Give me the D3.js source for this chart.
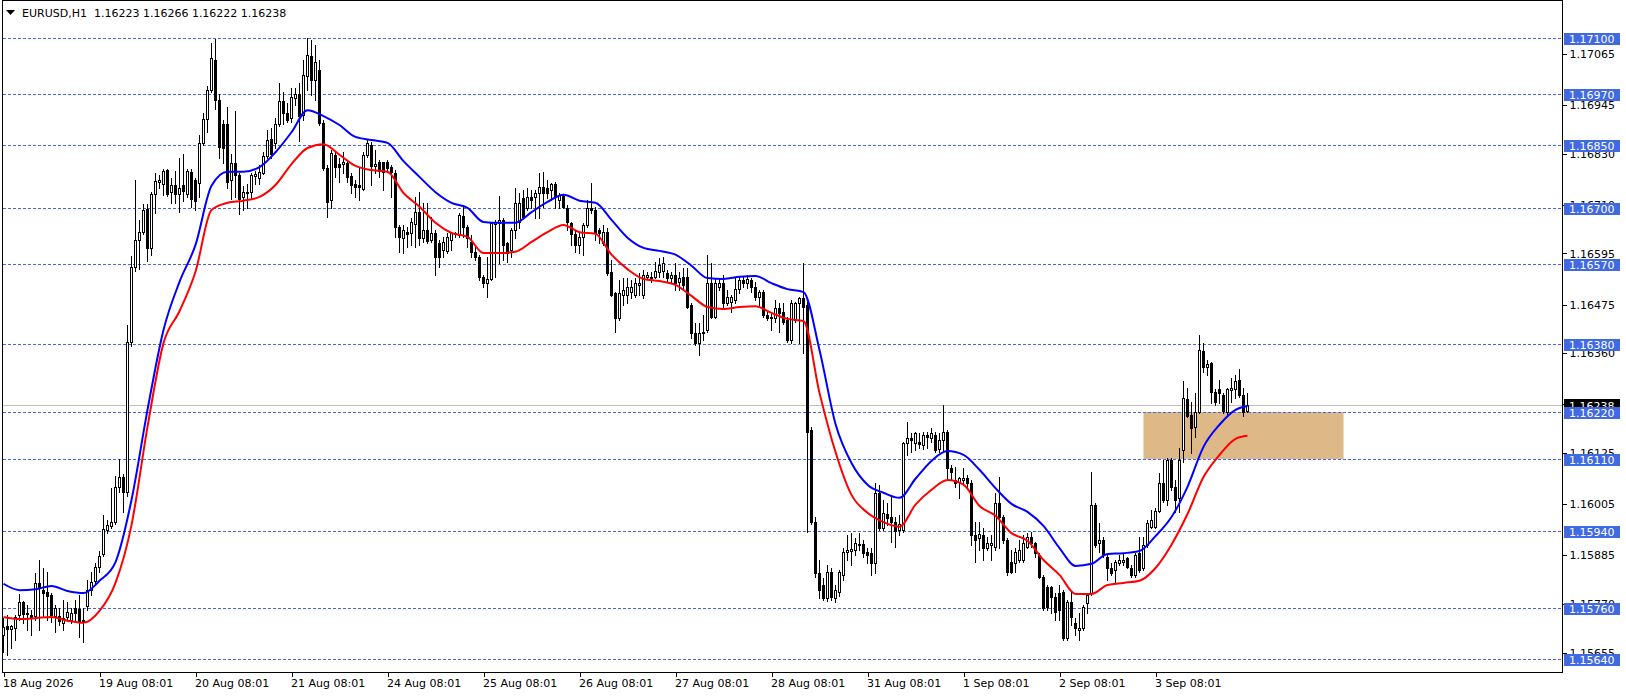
<!DOCTYPE html>
<html><head><meta charset="utf-8">
<script src="https://cdn.jsdelivr.net/npm/d3@7"></script>
<style>
html,body{margin:0;padding:0;background:#fff;overflow:hidden}
svg{display:block}
text{font-family:"DejaVu Sans",sans-serif;font-size:11px}
</style>
</head><body>
<svg id="chart" width="1626" height="696"></svg>
<script>
const chartTitle = "EURUSD,H1";
const titleQuote = ["1.16223", "1.16266", "1.16222", "1.16238"];

const opens = [
1.15696,1.15718,1.15711,1.15713,1.15743,1.15774,1.15748,1.15743,1.15741,1.15819,
1.15802,1.15797,1.15790,1.15741,1.15741,1.15725,1.15739,1.15732,1.15760,1.15758,
1.15732,1.15765,1.15802,1.15824,1.15857,1.15887,1.15943,1.15953,1.15962,1.16045,
1.16068,1.16033,1.16385,1.16562,1.16626,1.16644,1.16699,1.16607,1.16734,1.16762,
1.16758,1.16790,1.16738,1.16755,1.16734,1.16755,1.16734,1.16785,1.16767,1.16760,
1.16854,1.16910,1.16978,1.17049,1.16955,1.16899,1.16899,1.16767,1.16807,1.16779,
1.16727,1.16736,1.16738,1.16776,1.16772,1.16783,1.16823,1.16863,1.16854,1.16899,
1.16953,1.16924,1.16913,1.16960,1.16969,1.16920,1.17011,1.17058,1.17002,1.17025,
1.16901,1.16795,1.16720,1.16826,1.16804,1.16804,1.16807,1.16776,1.16758,1.16755,
1.16745,1.16826,1.16849,1.16800,1.16809,1.16809,1.16809,1.16797,1.16783,1.16656,
1.16631,1.16644,1.16642,1.16663,1.16691,1.16631,1.16649,1.16626,1.16642,1.16619,
1.16602,1.16600,1.16626,1.16640,1.16638,1.16682,1.16656,1.16621,1.16598,1.16586,
1.16539,1.16524,1.16534,1.16663,1.16666,1.16673,1.16619,1.16602,1.16649,1.16668,
1.16724,1.16701,1.16727,1.16727,1.16736,1.16750,1.16748,1.16743,1.16758,1.16720,
1.16729,1.16701,1.16666,1.16640,1.16614,1.16633,1.16661,1.16701,1.16696,1.16649,
1.16619,1.16644,1.16551,1.16501,1.16442,1.16497,1.16497,1.16503,1.16497,1.16520,
1.16497,1.16539,1.16536,1.16539,1.16551,1.16553,1.16548,1.16536,1.16544,1.16527,
1.16539,1.16539,1.16473,1.16407,1.16383,1.16407,1.16414,1.16524,1.16444,1.16515,
1.16524,1.16477,1.16480,1.16484,1.16510,1.16531,1.16524,1.16531,1.16515,1.16491,
1.16503,1.16449,1.16444,1.16442,1.16466,1.16456,1.16437,1.16390,1.16437,1.16477,
1.16489,1.16473,1.16179,1.15962,1.15842,1.15814,1.15784,1.15845,1.15784,1.15797,
1.15838,1.15892,1.15894,1.15896,1.15910,1.15910,1.15892,1.15889,1.15866,1.16031,
1.15948,1.15981,1.15974,1.15962,1.15943,1.15943,1.16148,1.16160,1.16148,1.16151,
1.16144,1.16167,1.16160,1.16167,1.16134,1.16155,1.16174,1.16089,1.16061,1.16057,
1.16061,1.16066,1.16054,1.15932,1.15925,1.15932,1.15901,1.15908,1.15904,1.16007,
1.15974,1.15920,1.15868,1.15866,1.15873,1.15873,1.15904,1.15927,1.15913,1.15885,
1.15833,1.15809,1.15809,1.15786,1.15795,1.15797,1.15689,1.15774,1.15725,1.15708,
1.15713,1.15772,1.15795,1.16003,1.15913,1.15920,1.15880,1.15854,1.15849,1.15866,
1.15868,1.15878,1.15854,1.15838,1.15889,1.15854,1.15908,1.15951,1.15951,1.15988,
1.16054,1.16014,1.16108,1.16045,1.16019,1.16132,1.16252,1.16214,1.16186,1.16221,
1.16364,1.16327,1.16336,1.16268,1.16275,1.16261,1.16221,1.16273,1.16275,1.16296,
1.16261,1.16223];

const highs = [
1.15736,1.15743,1.15720,1.15743,1.15793,1.15777,1.15768,1.15755,1.15842,1.15873,
1.15854,1.15845,1.15795,1.15768,1.15760,1.15779,1.15774,1.15760,1.15779,1.15791,
1.15760,1.15826,1.15845,1.15866,1.15894,1.15979,1.15967,1.16042,1.16071,1.16111,
1.16076,1.16426,1.16588,1.16767,1.16673,1.16711,1.16711,1.16738,1.16783,1.16779,
1.16793,1.16793,1.16772,1.16788,1.16819,1.16828,1.16793,1.16793,1.16772,1.16873,
1.16924,1.16988,1.17089,1.17098,1.16969,1.16908,1.16939,1.16828,1.16929,1.16783,
1.16753,1.16758,1.16783,1.16788,1.16802,1.16832,1.16884,1.16889,1.16913,1.16995,
1.16974,1.16948,1.16983,1.16983,1.16995,1.17049,1.17101,1.17096,1.17084,1.17049,
1.16908,1.16802,1.16837,1.16832,1.16819,1.16832,1.16814,1.16783,1.16767,1.16797,
1.16832,1.16861,1.16856,1.16837,1.16814,1.16809,1.16814,1.16802,1.16790,1.16661,
1.16661,1.16656,1.16677,1.16727,1.16738,1.16713,1.16713,1.16680,1.16649,1.16626,
1.16633,1.16642,1.16644,1.16644,1.16689,1.16708,1.16661,1.16638,1.16609,1.16591,
1.16544,1.16586,1.16668,1.16673,1.16729,1.16677,1.16621,1.16654,1.16748,1.16736,
1.16743,1.16748,1.16743,1.16743,1.16783,1.16786,1.16767,1.16760,1.16762,1.16736,
1.16732,1.16708,1.16668,1.16649,1.16642,1.16666,1.16720,1.16760,1.16704,1.16654,
1.16661,1.16654,1.16579,1.16503,1.16531,1.16536,1.16536,1.16531,1.16536,1.16548,
1.16555,1.16551,1.16551,1.16574,1.16584,1.16586,1.16555,1.16551,1.16572,1.16551,
1.16560,1.16560,1.16477,1.16430,1.16430,1.16449,1.16591,1.16572,1.16536,1.16536,
1.16544,1.16508,1.16497,1.16539,1.16539,1.16539,1.16544,1.16536,1.16527,1.16508,
1.16508,1.16456,1.16456,1.16484,1.16477,1.16477,1.16444,1.16484,1.16480,1.16491,
1.16572,1.16484,1.16186,1.15974,1.15873,1.15830,1.15861,1.15854,1.15814,1.15849,
1.15901,1.15932,1.15936,1.15924,1.15936,1.15920,1.15901,1.15901,1.16054,1.16050,
1.16014,1.16007,1.16021,1.15974,1.15979,1.16150,1.16197,1.16172,1.16174,1.16172,
1.16174,1.16174,1.16184,1.16174,1.16172,1.16238,1.16179,1.16097,1.16092,1.16068,
1.16090,1.16073,1.16061,1.15962,1.15962,1.15948,1.15927,1.15932,1.16031,1.16068,
1.15979,1.15925,1.15896,1.15901,1.15920,1.15932,1.15936,1.15939,1.15915,1.15889,
1.15838,1.15814,1.15812,1.15795,1.15814,1.15802,1.15779,1.15797,1.15736,1.15748,
1.15768,1.15795,1.16080,1.16007,1.15960,1.15927,1.15885,1.15866,1.15873,1.15885,
1.15889,1.15880,1.15862,1.15889,1.15927,1.15927,1.15967,1.15991,1.15995,1.16078,
1.16108,1.16113,1.16113,1.16061,1.16137,1.16294,1.16278,1.16245,1.16266,1.16402,
1.16383,1.16343,1.16339,1.16275,1.16296,1.16266,1.16278,1.16301,1.16308,1.16322,
1.16278,1.16266];

const lows = [
1.15656,1.15649,1.15666,1.15685,1.15732,1.15725,1.15708,1.15696,1.15732,1.15708,
1.15739,1.15732,1.15727,1.15703,1.15720,1.15708,1.15732,1.15725,1.15727,1.15692,
1.15680,1.15755,1.15791,1.15814,1.15845,1.15882,1.15936,1.15948,1.15958,1.16033,
1.15986,1.16024,1.16376,1.16553,1.16557,1.16640,1.16577,1.16591,1.16689,1.16748,
1.16732,1.16729,1.16713,1.16713,1.16691,1.16718,1.16727,1.16704,1.16696,1.16727,
1.16849,1.16879,1.16974,1.16934,1.16819,1.16807,1.16748,1.16722,1.16727,1.16687,
1.16696,1.16701,1.16724,1.16758,1.16758,1.16781,1.16818,1.16818,1.16842,1.16894,
1.16899,1.16903,1.16903,1.16943,1.16858,1.16908,1.16978,1.16967,1.16955,1.16896,
1.16790,1.16680,1.16701,1.16774,1.16762,1.16783,1.16762,1.16736,1.16727,1.16720,
1.16743,1.16821,1.16755,1.16783,1.16774,1.16743,1.16786,1.16727,1.16633,1.16598,
1.16595,1.16609,1.16614,1.16609,1.16614,1.16621,1.16619,1.16621,1.16544,1.16562,
1.16586,1.16595,1.16602,1.16633,1.16633,1.16633,1.16609,1.16586,1.16579,1.16531,
1.16515,1.16491,1.16531,1.16539,1.16572,1.16579,1.16574,1.16586,1.16631,1.16654,
1.16677,1.16696,1.16701,1.16677,1.16677,1.16704,1.16724,1.16720,1.16701,1.16701,
1.16701,1.16649,1.16614,1.16598,1.16595,1.16591,1.16656,1.16689,1.16626,1.16619,
1.16614,1.16544,1.16493,1.16409,1.16437,1.16473,1.16477,1.16489,1.16491,1.16497,
1.16489,1.16536,1.16527,1.16536,1.16539,1.16539,1.16527,1.16527,1.16508,1.16508,
1.16513,1.16466,1.16395,1.16379,1.16355,1.16390,1.16409,1.16442,1.16442,1.16508,
1.16468,1.16473,1.16456,1.16477,1.16501,1.16515,1.16513,1.16503,1.16484,1.16468,
1.16444,1.16437,1.16414,1.16433,1.16409,1.16428,1.16385,1.16383,1.16433,1.16383,
1.16360,1.15939,1.15958,1.15833,1.15784,1.15779,1.15777,1.15779,1.15774,1.15788,
1.15826,1.15873,1.15862,1.15885,1.15896,1.15880,1.15866,1.15838,1.15842,1.15943,
1.15943,1.15955,1.15915,1.15903,1.15932,1.15939,1.16120,1.16127,1.16132,1.16137,
1.16134,1.16137,1.16151,1.16127,1.16127,1.16127,1.16066,1.16061,1.16045,1.16019,
1.16054,1.16045,1.15909,1.15868,1.15896,1.15873,1.15896,1.15873,1.15896,1.15901,
1.15913,1.15838,1.15842,1.15845,1.15868,1.15868,1.15901,1.15904,1.15880,1.15831,
1.15755,1.15755,1.15748,1.15732,1.15732,1.15685,1.15685,1.15720,1.15696,1.15685,
1.15708,1.15748,1.15791,1.15904,1.15892,1.15880,1.15826,1.15838,1.15819,1.15862,
1.15862,1.15854,1.15833,1.15833,1.15845,1.15849,1.15904,1.15948,1.15948,1.15986,
1.16009,1.16003,1.16038,1.15986,1.15986,1.16104,1.16209,1.16125,1.16162,1.16219,
1.16315,1.16308,1.16242,1.16238,1.16242,1.16219,1.16217,1.16245,1.16254,1.16256,
1.16212,1.16222];

const closes = [
1.15716,1.15711,1.15718,1.15739,1.15774,1.15746,1.15746,1.15736,1.15819,1.15807,
1.15795,1.15788,1.15743,1.15760,1.15730,1.15736,1.15750,1.15748,1.15748,1.15727,
1.15730,1.15802,1.15821,1.15857,1.15882,1.15946,1.15955,1.15962,1.16045,1.16068,
1.16033,1.16385,1.16562,1.16626,1.16644,1.16696,1.16607,1.16734,1.16765,1.16767,
1.16788,1.16734,1.16755,1.16734,1.16748,1.16741,1.16788,1.16722,1.16718,1.16854,
1.16910,1.16978,1.17054,1.16955,1.16844,1.16842,1.16762,1.16807,1.16779,1.16722,
1.16738,1.16738,1.16779,1.16781,1.16786,1.16823,1.16861,1.16828,1.16899,1.16953,
1.16924,1.16908,1.16962,1.16969,1.16917,1.17014,1.17061,1.17002,1.17044,1.16901,
1.16795,1.16715,1.16830,1.16797,1.16797,1.16809,1.16774,1.16755,1.16750,1.16750,
1.16826,1.16854,1.16800,1.16804,1.16788,1.16786,1.16795,1.16786,1.16656,1.16633,
1.16649,1.16640,1.16668,1.16691,1.16631,1.16649,1.16624,1.16642,1.16586,1.16586,
1.16621,1.16633,1.16642,1.16641,1.16685,1.16656,1.16631,1.16598,1.16586,1.16539,
1.16524,1.16534,1.16666,1.16668,1.16673,1.16614,1.16595,1.16649,1.16713,1.16713,
1.16680,1.16727,1.16720,1.16736,1.16750,1.16736,1.16736,1.16758,1.16729,1.16732,
1.16704,1.16668,1.16640,1.16614,1.16633,1.16661,1.16701,1.16696,1.16642,1.16642,
1.16644,1.16548,1.16497,1.16442,1.16501,1.16508,1.16515,1.16515,1.16524,1.16524,
1.16544,1.16544,1.16539,1.16553,1.16567,1.16572,1.16536,1.16544,1.16524,1.16536,
1.16520,1.16468,1.16407,1.16383,1.16407,1.16409,1.16524,1.16444,1.16524,1.16524,
1.16477,1.16491,1.16491,1.16510,1.16531,1.16524,1.16534,1.16515,1.16491,1.16503,
1.16449,1.16442,1.16442,1.16466,1.16454,1.16433,1.16390,1.16477,1.16477,1.16489,
1.16468,1.16175,1.15962,1.15842,1.15802,1.15784,1.15845,1.15786,1.15802,1.15845,
1.15892,1.15896,1.15899,1.15913,1.15908,1.15889,1.15885,1.15866,1.16031,1.15948,
1.15983,1.15972,1.15962,1.15941,1.15958,1.16148,1.16160,1.16155,1.16172,1.16146,
1.16167,1.16162,1.16172,1.16132,1.16155,1.16174,1.16089,1.16080,1.16054,1.16066,
1.16066,1.16054,1.15932,1.15920,1.15934,1.15901,1.15913,1.15913,1.16007,1.15974,
1.15920,1.15845,1.15845,1.15892,1.15896,1.15913,1.15927,1.15913,1.15889,1.15833,
1.15760,1.15762,1.15786,1.15750,1.15755,1.15689,1.15774,1.15739,1.15713,1.15713,
1.15762,1.15791,1.16003,1.15909,1.15920,1.15885,1.15854,1.15842,1.15868,1.15873,
1.15873,1.15857,1.15838,1.15885,1.15849,1.15908,1.15960,1.15967,1.15988,1.16054,
1.16014,1.16108,1.16045,1.16014,1.16108,1.16254,1.16212,1.16184,1.16221,1.16367,
1.16327,1.16334,1.16268,1.16245,1.16266,1.16224,1.16275,1.16278,1.16294,1.16261,
1.16221,1.16238];

// indicator lines (blue upper / red lower), read at these bar indices
const maBars = [0,4,8,12,16,20,24,28,32,36,40,44,48,52,56,60,64,68,72,76,
80,84,88,92,96,100,104,108,112,116,120,124,128,132,136,140,144,148,152,156,
160,164,168,172,176,180,184,188,192,196,200,204,208,212,216,220,224,228,232,236,
240,244,248,252,256,260,264,268,272,276,280,284,288,292,296,300,304,308,311];
const maUpper = [
1.15817,1.15802,1.15804,1.15812,1.15800,1.15795,1.15824,1.15868,1.16014,1.16226,
1.16414,1.16527,1.16614,1.16753,1.16786,1.16786,1.16797,1.16832,1.16879,1.16931,
1.16917,1.16896,1.16868,1.16861,1.16854,1.16811,1.16774,1.16738,1.16713,1.16701,
1.16668,1.16666,1.16666,1.16691,1.16715,1.16732,1.16718,1.16713,1.16673,1.16631,
1.16607,1.16600,1.16591,1.16565,1.16536,1.16534,1.16539,1.16541,1.16524,1.16510,
1.16503,1.16367,1.16193,1.16101,1.16050,1.16031,1.16019,1.16064,1.16106,1.16129,
1.16120,1.16085,1.16042,1.16005,1.15986,1.15953,1.15901,1.15859,1.15864,1.15887,
1.15889,1.15894,1.15929,1.15974,1.16045,1.16139,1.16191,1.16226,1.16235];
const maLower = [
1.15739,1.15734,1.15736,1.15739,1.15730,1.15725,1.15753,1.15819,1.15955,1.16186,
1.16383,1.16458,1.16551,1.16696,1.16713,1.16718,1.16727,1.16755,1.16804,1.16842,
1.16851,1.16826,1.16800,1.16790,1.16786,1.16736,1.16704,1.16666,1.16642,1.16633,
1.16595,1.16595,1.16598,1.16621,1.16644,1.16661,1.16644,1.16640,1.16591,1.16557,
1.16534,1.16529,1.16520,1.16494,1.16468,1.16463,1.16468,1.16470,1.16454,1.16440,
1.16435,1.16266,1.16127,1.16026,1.15984,1.15962,1.15951,1.16003,1.16038,1.16061,
1.16050,1.16000,1.15977,1.15936,1.15918,1.15873,1.15838,1.15793,1.15793,1.15814,
1.15819,1.15824,1.15854,1.15909,1.15981,1.16068,1.16120,1.16158,1.16165];

const levelPrices = [1.17100,1.16970,1.16850,1.16700,1.16570,1.16380,1.16220,1.16110,1.15940,1.15760,1.15640];
const priceTicks = [1.17065,1.16945,1.16830,1.16710,1.16595,1.16475,1.16360,1.16240,1.16125,1.16005,1.15885,1.15770,1.15655];
const timeTickBars = [0,24,48,72,96,120,144,168,192,216,240,264,288];
const timeTickLabels = ["18 Aug 2026","19 Aug 08:01","20 Aug 08:01","21 Aug 08:01","24 Aug 08:01","25 Aug 08:01","26 Aug 08:01","27 Aug 08:01","28 Aug 08:01","31 Aug 08:01","1 Sep 08:01","2 Sep 08:01","3 Sep 08:01"];
const zoneBars = [285, 335];
const zonePrices = [1.16220, 1.16110];
const currentPrice = 1.16238;

// ---------- drawing ----------
const svg = d3.select("#chart");
const plotLeft = 2, plotRight = 1562, plotTop = 0, plotBottom = 672;
const n = closes.length;
const x = d3.scaleLinear().domain([0, n - 1]).range([3.5, 3.5 + 4 * (n - 1)]);
const y = d3.scaleLinear().domain([1.15640, 1.17100]).range([659, 38.3]);
const py = v => Math.round(y(v)) + 0.5;

const plot = svg.append("g");

// zone rectangle
plot.append("rect")
  .attr("x", x(zoneBars[0])).attr("y", py(zonePrices[0]) - 0.5)
  .attr("width", x(zoneBars[1]) - x(zoneBars[0]))
  .attr("height", py(zonePrices[1]) - py(zonePrices[0]))
  .attr("fill", "#DEB887");

// current price line
plot.append("line")
  .attr("x1", plotLeft).attr("x2", plotRight)
  .attr("y1", py(currentPrice)).attr("y2", py(currentPrice))
  .attr("stroke", "#C0C0C0").attr("stroke-width", 1).attr("shape-rendering", "crispEdges");

// horizontal levels
plot.selectAll("line.level").data(levelPrices).enter().append("line")
  .attr("class", "level")
  .attr("x1", plotLeft + 1).attr("x2", plotRight)
  .attr("y1", d => py(d)).attr("y2", d => py(d))
  .attr("stroke", "#4169E1").attr("stroke-width", 1)
  .attr("stroke-dasharray", "3,2").attr("shape-rendering", "crispEdges");

// candles
const idx = d3.range(n);
const cg = plot.append("g").attr("shape-rendering", "crispEdges");
cg.selectAll("line.wick").data(idx).enter().append("line")
  .attr("x1", i => x(i)).attr("x2", i => x(i))
  .attr("y1", i => py(highs[i]) - 0.5).attr("y2", i => py(lows[i]) + 0.5)
  .attr("stroke", "#000").attr("stroke-width", 1);
cg.selectAll("rect.body").data(idx).enter().append("rect")
  .attr("x", i => x(i) - 1)
  .attr("y", i => py(Math.max(opens[i], closes[i])))
  .attr("width", 2)
  .attr("height", i => Math.max(0, py(Math.min(opens[i], closes[i])) - py(Math.max(opens[i], closes[i]))))
  .attr("fill", i => closes[i] >= opens[i] ? "#fff" : "#000")
  .attr("stroke", "#000").attr("stroke-width", 1);

// indicator lines
const maLine = vals => d3.line()
  .x((d, k) => x(maBars[k]))
  .y((d) => y(d))
  .curve(d3.curveMonotoneX)(vals);
plot.append("path").attr("d", maLine(maUpper))
  .attr("fill", "none").attr("stroke", "#0000FF").attr("stroke-width", 2);
plot.append("path").attr("d", maLine(maLower))
  .attr("fill", "none").attr("stroke", "#FF0000").attr("stroke-width", 2);

// frame
const frame = svg.append("g").attr("shape-rendering", "crispEdges");
frame.append("line").attr("x1", plotLeft + 0.5).attr("x2", plotLeft + 0.5).attr("y1", plotTop).attr("y2", plotBottom + 0.5).attr("stroke", "#000");
frame.append("line").attr("x1", plotLeft).attr("x2", plotRight + 1).attr("y1", plotTop + 0.5).attr("y2", plotTop + 0.5).attr("stroke", "#000");
frame.append("line").attr("x1", plotRight + 0.5).attr("x2", plotRight + 0.5).attr("y1", plotTop).attr("y2", plotBottom + 0.5).attr("stroke", "#000");
frame.append("line").attr("x1", plotLeft).attr("x2", plotRight + 1).attr("y1", plotBottom + 0.5).attr("y2", plotBottom + 0.5).attr("stroke", "#000");

// right price axis
const yAxis = d3.axisRight(y).tickValues(priceTicks).tickSize(4).tickPadding(3)
  .tickFormat(d3.format(".5f"));
const ya = svg.append("g").attr("transform", `translate(${plotRight + 0.5},0.5)`).call(yAxis);
ya.select(".domain").remove();
ya.selectAll(".tick line").attr("stroke", "#000").attr("shape-rendering", "crispEdges");
ya.selectAll(".tick text").attr("fill", "#000").attr("font-size", 11).attr("font-family", "DejaVu Sans");

// bottom time axis
const xAxis = d3.axisBottom(x).tickValues(timeTickBars).tickSize(4).tickPadding(3)
  .tickFormat((d, k) => timeTickLabels[k]);
const xa = svg.append("g").attr("transform", `translate(0,${plotBottom + 0.5})`).call(xAxis);
xa.select(".domain").remove();
xa.selectAll(".tick line").attr("stroke", "#000").attr("shape-rendering", "crispEdges");
xa.selectAll(".tick text").attr("fill", "#000").attr("text-anchor", "start").attr("x", -1)
  .attr("font-size", 11).attr("font-family", "DejaVu Sans");

// current price label
const cp = svg.append("g");
cp.append("rect").attr("x", plotRight + 2).attr("y", py(currentPrice) - 6.5)
  .attr("width", 56).attr("height", 13).attr("fill", "#000");
cp.append("text").attr("x", plotRight + 7).attr("y", py(currentPrice) + 4)
  .attr("fill", "#fff").text(d3.format(".5f")(currentPrice));

// level labels
const lg = svg.selectAll("g.lvl").data(levelPrices).enter().append("g").attr("class", "lvl");
lg.append("rect").attr("x", plotRight + 2).attr("y", d => py(d) - 5.5)
  .attr("width", 56).attr("height", 12).attr("fill", "#4169E1");
lg.append("text").attr("x", plotRight + 7).attr("y", d => py(d) + 4)
  .attr("fill", "#fff").text(d => d3.format(".5f")(d));

// title
svg.append("path").attr("d", "M6,10 L15,10 L10.5,15 Z").attr("fill", "#000");
svg.append("text").attr("x", 22).attr("y", 16.5).attr("fill", "#000")
  .attr("xml:space", "preserve")
  .text(chartTitle + "  " + titleQuote.join(" "));
</script>
</body></html>
